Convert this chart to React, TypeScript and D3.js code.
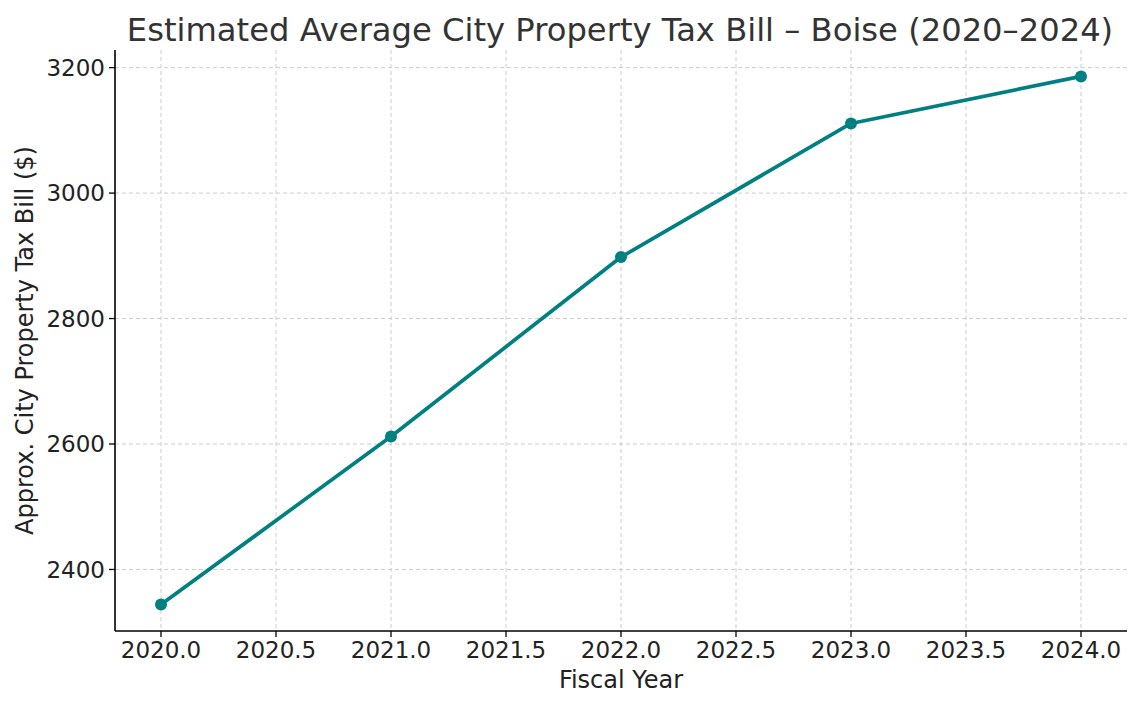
import * as d3 from 'd3';

const years = [2020, 2021, 2022, 2023, 2024];
const taxBill = [2344, 2612, 2898, 3111, 3186];
const xTicks = [2020, 2020.5, 2021, 2021.5, 2022, 2022.5, 2023, 2023.5, 2024];
const yTicks = [2400, 2600, 2800, 3000, 3200];

const size = { width: 1140, height: 708 };
const MARGIN = { top: 50, right: 13, bottom: 77, left: 115 };

const color = {
  line: '#008080',
  grid: '#cccccc',
  text: '#222222',
  title: '#333333',
};

const FONT = '"DejaVu Sans", sans-serif';

const App = () => {
  const boundsWidth = size.width - MARGIN.left - MARGIN.right;
  const boundsHeight = size.height - MARGIN.top - MARGIN.bottom;

  // matplotlib-ish 5% padding on both axes
  const [xMin, xMax] = d3.extent(years) as [number, number];
  const xPad = (xMax - xMin) * 0.05;
  const xScale = d3.scaleLinear().domain([xMin - xPad, xMax + xPad]).range([0, boundsWidth]);

  const [yMin, yMax] = d3.extent(taxBill) as [number, number];
  const yPad = (yMax - yMin) * 0.05;
  const yScale = d3.scaleLinear().domain([yMin - yPad, yMax + yPad]).range([boundsHeight, 0]);

  const points = years.map((y, i) => ({ x: y, v: taxBill[i] }));
  const linePath = d3
    .line<{ x: number; v: number }>()
    .x(d => xScale(d.x))
    .y(d => yScale(d.v))(points);

  return (
    <svg width={size.width} height={size.height} style={{ position: 'absolute', left: 0, top: 0 }} fontFamily={FONT}>
      <rect width={size.width} height={size.height} fill="#ffffff" />
      <text x={620} y={41} textAnchor="middle" fontSize={32.2} fill={color.title}>
        Estimated Average City Property Tax Bill – Boise (2020–2024)
      </text>
      <g transform={`translate(${MARGIN.left},${MARGIN.top})`}>
        {/* grid */}
        {xTicks.map(t => (
          <line key={'gx' + t} x1={xScale(t)} x2={xScale(t)} y1={0} y2={boundsHeight}
            stroke={color.grid} strokeWidth={1} strokeDasharray="4,3" />
        ))}
        {yTicks.map(t => (
          <line key={'gy' + t} x1={0} x2={boundsWidth} y1={yScale(t)} y2={yScale(t)}
            stroke={color.grid} strokeWidth={1} strokeDasharray="4,3" />
        ))}

        {/* line + markers */}
        <path d={linePath || ''} fill="none" stroke={color.line} strokeWidth={3.7} strokeLinejoin="round" />
        {points.map(p => (
          <circle key={p.x} cx={xScale(p.x)} cy={yScale(p.v)} r={6} fill={color.line} />
        ))}

        {/* axes */}
        <line x1={0} x2={0} y1={0} y2={boundsHeight} stroke="#000" strokeWidth={1.6} />
        <line x1={0} x2={boundsWidth} y1={boundsHeight} y2={boundsHeight} stroke="#000" strokeWidth={1.6} />
        {xTicks.map(t => (
          <g key={'tx' + t} transform={`translate(${xScale(t)},${boundsHeight})`}>
            <line y1={0} y2={6} stroke="#000" strokeWidth={1.3} />
            <text y={27} textAnchor="middle" fontSize={23} fill={color.text}>{t.toFixed(1)}</text>
          </g>
        ))}
        {yTicks.map(t => (
          <g key={'ty' + t} transform={`translate(0,${yScale(t)})`}>
            <line x1={0} x2={-6} stroke="#000" strokeWidth={1.3} />
            <text x={-10} dy="0.36em" textAnchor="end" fontSize={23} fill={color.text}>{t}</text>
          </g>
        ))}
      </g>

      <text x={MARGIN.left + boundsWidth / 2} y={688} textAnchor="middle" fontSize={24} fill={color.text}>
        Fiscal Year
      </text>
      <text transform={`translate(33,${MARGIN.top + boundsHeight / 2}) rotate(-90)`} textAnchor="middle"
        fontSize={24} fill={color.text}>
        Approx. City Property Tax Bill ($)
      </text>
    </svg>
  );
};

export default App;
